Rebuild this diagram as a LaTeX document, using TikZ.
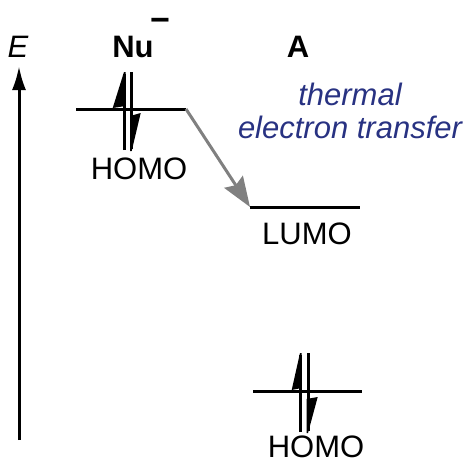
\documentclass[tikz,border=0pt]{standalone}
\usepackage{fontspec}
\setmainfont{Liberation Sans}
\usetikzlibrary{arrows.meta}
\definecolor{labelblue}{RGB}{40,50,130}
\definecolor{arrowgray}{RGB}{128,128,128}
\begin{document}
\begin{tikzpicture}[x=1pt,y=-1pt,
  level/.style={line width=3pt},
  shaft/.style={line width=3pt},
  lbl/.style={anchor=base, inner sep=0pt, font=\fontsize{31}{36}\selectfont},
  bluelbl/.style={lbl, text=labelblue, font=\fontsize{31}{36}\selectfont\itshape},
  transfer/.style={draw=arrowgray, line width=3pt, -{Stealth[length=30pt,width=22pt,inset=4pt]}},
  axis/.style={line width=3pt, -{Latex[length=24pt,width=14pt]}}]
\useasboundingbox (0,0) rectangle (469,464);
% energy axis
\coordinate (axB) at (19,440);
\coordinate (axT) at (19,66);
\draw[axis] (axB) -- (axT);
\node[lbl, font=\fontsize{31}{36}\selectfont\itshape] (E) at (18,57) {E};
% headers
\node[lbl, font=\fontsize{31}{36}\selectfont\bfseries] (Nu) at (133,57) {Nu};
\node[lbl, font=\fontsize{34}{36}\selectfont\bfseries] (minus) at (160,31) {−};
\node[lbl, font=\fontsize{31}{36}\selectfont\bfseries] (A) at (298,57) {A};
\node[bluelbl] (th1) at (350,105) {thermal};
\node[bluelbl] (th2) at (350,138) {electron transfer};
% Nu HOMO
\coordinate (nuL) at (76,109);
\coordinate (nuR) at (186,109);
\draw[level] (nuL) -- (nuR);
\draw[shaft] (124,150) -- (124,74);
\fill (124,72) -- (112.7,108) -- (125.5,106) -- (125.5,72) -- cycle;
\draw[shaft] (131.7,72) -- (131.7,149);
\fill (131.7,151) -- (140.7,113) -- (130.2,116) -- (130.2,151) -- cycle;
\node[lbl] (homo1) at (139,179) {HOMO};
% LUMO
\coordinate (luL) at (250,207);
\coordinate (luR) at (360,207);
\draw[level] (luL) -- (luR);
\node[lbl] (lumo) at (307,244) {LUMO};
% A HOMO
\coordinate (aL) at (253,391);
\coordinate (aR) at (362,391);
\draw[level] (aL) -- (aR);
\draw[shaft] (300,432) -- (300,355);
\fill (300,353) -- (291.7,390) -- (301.5,388) -- (301.5,353) -- cycle;
\draw[shaft] (308,353) -- (308,431);
\fill (308,433) -- (317.7,397) -- (306.5,399) -- (306.5,433) -- cycle;
\node[lbl] (homo2) at (316,457) {HOMO};
% transfer arrow
\draw[transfer] (nuR) -- (luL);
\end{tikzpicture}
\end{document}
